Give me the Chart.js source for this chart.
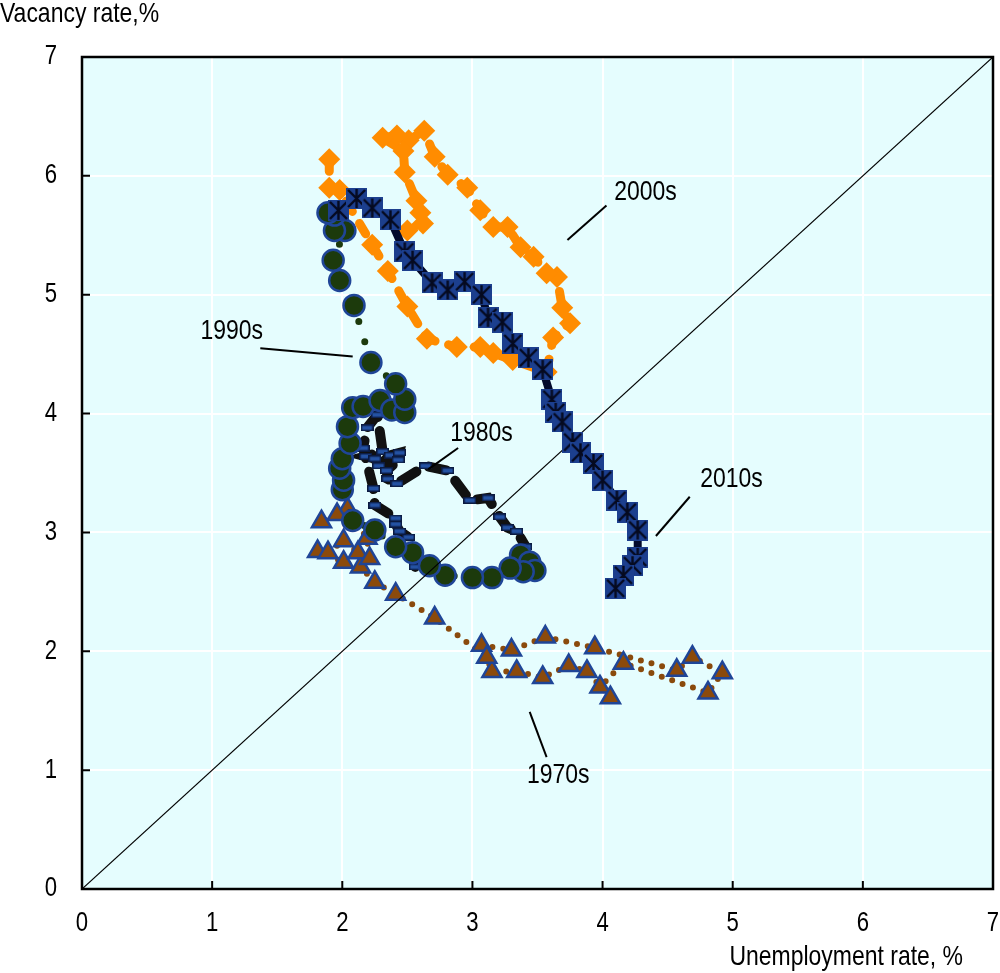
<!DOCTYPE html>
<html>
<head>
<meta charset="utf-8">
<script src="https://cdn.jsdelivr.net/npm/chart.js@4.4.1/dist/chart.umd.min.js"></script>
<style>
  body { margin: 0; background: #fff; }
  #wrap { width: 1000px; height: 973px; }
</style>
</head>
<body>
<div id="wrap"><canvas id="chart" width="1000" height="973"></canvas></div>
<script>
// unemployment rate (x) and vacancy rate (y), one pair of arrays per decade
const x1970 = [3.07, 3.30, 3.56, 3.94, 4.57, 4.69, 4.92, 4.81, 4.16, 3.98, 4.06, 3.88, 3.74, 3.54, 3.34, 3.15, 3.11, 2.71, 2.41, 2.25, 2.14, 2.01, 1.81, 1.89, 2.01, 2.12, 2.21, 2.19, 2.04, 1.96, 1.84];
const y1970 = [2.05, 2.01, 2.12, 2.03, 1.84, 1.95, 1.82, 1.65, 1.90, 1.70, 1.61, 1.83, 1.88, 1.78, 1.83, 1.83, 1.95, 2.28, 2.48, 2.58, 2.71, 2.75, 2.84, 2.83, 2.93, 2.83, 2.78, 2.95, 3.20, 3.15, 3.09];

const x1980 = [2.56, 2.51, 2.44, 2.41, 2.41, 2.25, 2.24, 2.16, 2.19, 2.27, 2.31, 2.18, 2.25, 2.28, 2.37, 2.44, 2.43, 2.34, 2.35, 2.42, 2.64, 2.81, 2.98, 3.12, 3.21, 3.27, 3.34, 3.41];
const y1980 = [2.71, 2.96, 3.01, 3.07, 3.12, 3.23, 3.37, 3.71, 3.88, 3.99, 3.68, 3.64, 3.62, 3.56, 3.65, 3.67, 3.61, 3.52, 3.45, 3.41, 3.56, 3.52, 3.27, 3.29, 3.13, 3.04, 3.01, 2.88];

const x1990 = [3.37, 3.44, 3.48, 3.39, 3.29, 3.15, 3.00, 2.79, 2.67, 2.54, 2.41, 2.25, 2.08, 2.00, 2.01, 1.98, 2.00, 2.06, 2.04, 2.08, 2.16, 2.29, 2.38, 2.48, 2.48, 2.41, 2.22, 2.09, 1.98, 1.93, 2.02, 1.94, 1.94, 1.89];
const y1990 = [2.81, 2.75, 2.68, 2.67, 2.70, 2.62, 2.62, 2.64, 2.72, 2.83, 2.88, 3.02, 3.10, 3.36, 3.44, 3.54, 3.62, 3.75, 3.89, 4.05, 4.06, 4.11, 4.03, 4.01, 4.12, 4.25, 4.43, 4.91, 5.12, 5.29, 5.54, 5.54, 5.67, 5.69];

const x2000 = [1.90, 1.90, 1.98, 2.23, 2.35, 2.50, 2.65, 2.88, 3.06, 3.16, 3.31, 3.57, 3.62, 3.75, 3.69, 3.65, 3.57, 3.47, 3.37, 3.27, 3.16, 3.06, 2.96, 2.81, 2.71, 2.63, 2.51, 2.42, 2.31, 2.47, 2.48, 2.57, 2.60, 2.62, 2.50];
const y2000 = [6.14, 5.90, 5.88, 5.42, 5.20, 4.90, 4.63, 4.56, 4.56, 4.51, 4.45, 4.35, 4.64, 4.76, 4.89, 5.15, 5.18, 5.32, 5.40, 5.57, 5.57, 5.71, 5.90, 6.01, 6.16, 6.38, 6.30, 6.34, 6.32, 6.21, 6.03, 5.79, 5.69, 5.60, 5.54];

const x2010 = [1.97, 2.11, 2.23, 2.37, 2.48, 2.54, 2.69, 2.81, 2.94, 3.07, 3.12, 3.23, 3.31, 3.43, 3.54, 3.61, 3.64, 3.69, 3.77, 3.83, 3.93, 4.00, 4.11, 4.19, 4.27, 4.27, 4.23, 4.16, 4.10];
const y2010 = [5.71, 5.81, 5.73, 5.63, 5.36, 5.29, 5.10, 5.04, 5.11, 5.00, 4.81, 4.77, 4.59, 4.47, 4.37, 4.12, 4.01, 3.93, 3.76, 3.67, 3.58, 3.44, 3.27, 3.17, 3.02, 2.79, 2.72, 2.64, 2.53];

// decade labels, their anchor (centre of text) and the leader line ends
const labelText = ['2000s', '2010s', '1990s', '1980s', '1970s'];
const labelX = [4.33, 4.99, 1.15, 3.07, 3.66];
const labelY = [5.86, 3.45, 4.69, 3.83, 0.96];
const leaderX1 = [4.03, 4.67, 1.37, 2.89, 3.44];
const leaderY1 = [5.75, 3.30, 4.55, 3.71, 1.49];
const leaderX2 = [3.73, 4.41, 2.08, 2.66, 3.57];
const leaderY2 = [5.46, 2.97, 4.48, 3.53, 1.11];

const axisTicks = [0, 1, 2, 3, 4, 5, 6, 7];

// no narrow font installed, so Liberation Sans is squeezed when drawn
const FONT = '"Liberation Sans", Arial, sans-serif';
const SQUEEZE = 0.82;

function toPoints(xs, ys) {
  return xs.map((x, i) => ({ x: x, y: ys[i] }));
}

function narrowText(ctx, text, x, y, size, align, baseline) {
  ctx.save();
  ctx.translate(x, y);
  ctx.scale(SQUEEZE, 1);
  ctx.font = size + 'px ' + FONT;
  ctx.fillStyle = '#000';
  ctx.textAlign = align;
  ctx.textBaseline = baseline;
  ctx.fillText(text, 0, 0);
  ctx.restore();
}

// blue square with a black asterisk, used for the 2010s
function starSquare() {
  let c = document.createElement('canvas');
  c.width = 21; c.height = 21;
  let ctx = c.getContext('2d');
  ctx.fillStyle = '#1c3f8e';
  ctx.fillRect(0, 0, 21, 21);
  ctx.strokeStyle = '#050a20';
  ctx.lineWidth = 2.4;
  ctx.beginPath();
  ctx.moveTo(2, 2); ctx.lineTo(19, 19);
  ctx.moveTo(19, 2); ctx.lineTo(2, 19);
  ctx.moveTo(10.5, 1); ctx.lineTo(10.5, 20);
  ctx.stroke();
  return c;
}

// small blue dash, used for the 1980s
function dashMark() {
  let c = document.createElement('canvas');
  c.width = 13; c.height = 7;
  let ctx = c.getContext('2d');
  ctx.fillStyle = '#2452a3';
  ctx.fillRect(0, 0, 13, 7);
  ctx.strokeStyle = '#0b1a40';
  ctx.lineWidth = 1.5;
  ctx.strokeRect(0.75, 0.75, 11.5, 5.5);
  return c;
}

let datasets = [
  {
    label: '2010s',
    data: toPoints(x2010, y2010),
    showLine: true,
    borderColor: '#020a2c',
    borderWidth: 8,
    pointStyle: starSquare(),
    pointRadius: 10,
    order: 1
  },
  {
    label: '2000s',
    data: toPoints(x2000, y2000),
    showLine: true,
    borderColor: '#ff8c00',
    borderWidth: 9,
    borderDash: [12, 14],
    borderCapStyle: 'round',
    pointStyle: 'rectRot',
    pointRadius: 11,
    pointBackgroundColor: '#ff8c00',
    pointBorderColor: '#ff8c00',
    pointBorderWidth: 0,
    order: 2
  },
  {
    label: 'diagonal',
    data: toPoints([0, 7], [0, 7]),
    showLine: true,
    borderColor: '#000',
    borderWidth: 1.2,
    pointRadius: 0,
    order: 3
  },
  {
    label: '1990s',
    data: toPoints(x1990, y1990),
    showLine: true,
    borderColor: '#1c3a0c',
    borderWidth: 7,
    borderDash: [0, 21],
    borderCapStyle: 'round',
    pointStyle: 'circle',
    pointRadius: 10.5,
    pointBackgroundColor: '#1c3a0c',
    pointBorderColor: '#1f4597',
    pointBorderWidth: 2.5,
    order: 4
  },
  {
    label: '1980s',
    data: toPoints(x1980, y1980),
    showLine: true,
    borderColor: '#111111',
    borderWidth: 10,
    borderDash: [18, 14],
    borderCapStyle: 'round',
    pointStyle: dashMark(),
    pointRadius: 6,
    order: 5
  },
  {
    label: '1970s',
    data: toPoints(x1970, y1970),
    showLine: true,
    borderColor: '#8a4a0c',
    borderWidth: 6,
    borderDash: [0, 11],
    borderCapStyle: 'round',
    pointStyle: 'triangle',
    pointRadius: 11,
    pointBackgroundColor: '#8b4a0b',
    pointBorderColor: '#1f4597',
    pointBorderWidth: 2.5,
    order: 6
  }
];

// leader lines from the decade labels to the series
for (let i = 0; i < labelText.length; i++) {
  datasets.push({
    label: 'leader ' + labelText[i],
    data: toPoints([leaderX1[i], leaderX2[i]], [leaderY1[i], leaderY2[i]]),
    showLine: true,
    borderColor: '#000',
    borderWidth: 2,
    pointRadius: 0,
    order: 0
  });
}

// background, frame, inward tick marks and all text
const decor = {
  id: 'decor',
  beforeDraw(chart) {
    const a = chart.chartArea, ctx = chart.ctx;
    ctx.save();
    ctx.fillStyle = '#e5fdfe';
    ctx.fillRect(a.left, a.top, a.right - a.left, a.bottom - a.top);
    ctx.restore();
  },
  afterDraw(chart) {
    const a = chart.chartArea, ctx = chart.ctx;
    const xs = chart.scales.x, ys = chart.scales.y;
    ctx.save();
    ctx.strokeStyle = '#000';
    ctx.lineWidth = 2.5;
    ctx.strokeRect(a.left, a.top, a.right - a.left, a.bottom - a.top);
    ctx.lineWidth = 2;
    ctx.beginPath();
    axisTicks.slice(1, -1).forEach(v => {
      let px = xs.getPixelForValue(v);
      ctx.moveTo(px, a.bottom); ctx.lineTo(px, a.bottom - 8);
      let py = ys.getPixelForValue(v);
      ctx.moveTo(a.left, py); ctx.lineTo(a.left + 8, py);
    });
    ctx.stroke();
    ctx.restore();

    // tick labels
    axisTicks.forEach(v => {
      narrowText(ctx, String(v), xs.getPixelForValue(v), a.bottom + 35, 27, 'center', 'middle');
      narrowText(ctx, String(v), a.left - 25, ys.getPixelForValue(v), 27, 'right', 'middle');
    });

    // decade labels
    for (let i = 0; i < labelText.length; i++) {
      narrowText(ctx, labelText[i], xs.getPixelForValue(labelX[i]), ys.getPixelForValue(labelY[i]), 28, 'center', 'middle');
    }

    // axis titles
    narrowText(ctx, 'Vacancy rate,%', 0, 22, 28, 'left', 'alphabetic');
    narrowText(ctx, 'Unemployment rate, %', 963, 965, 28, 'right', 'alphabetic');
  }
};

new Chart(document.getElementById('chart'), {
  type: 'scatter',
  data: { datasets: datasets },
  options: {
    responsive: false,
    animation: false,
    layout: { autoPadding: false, padding: { top: 57, right: 7, left: 0, bottom: 0 } },
    plugins: {
      legend: { display: false },
      tooltip: { enabled: false }
    },
    scales: {
      x: {
        type: 'linear',
        min: 0,
        max: 7,
        afterFit: s => { s.height = 84; s.paddingLeft = 0; s.paddingRight = 0; },
        afterBuildTicks: s => { s.ticks = axisTicks.map(v => ({ value: v })); },
        ticks: { display: false },
        grid: { color: '#ffffff', lineWidth: 2, drawTicks: false },
        border: { display: false }
      },
      y: {
        type: 'linear',
        min: 0,
        max: 7,
        afterFit: s => { s.width = 82; s.paddingTop = 0; s.paddingBottom = 0; },
        afterBuildTicks: s => { s.ticks = axisTicks.map(v => ({ value: v })); },
        ticks: { display: false },
        grid: { color: '#ffffff', lineWidth: 2, drawTicks: false },
        border: { display: false }
      }
    }
  },
  plugins: [decor]
});
</script>
</body>
</html>
